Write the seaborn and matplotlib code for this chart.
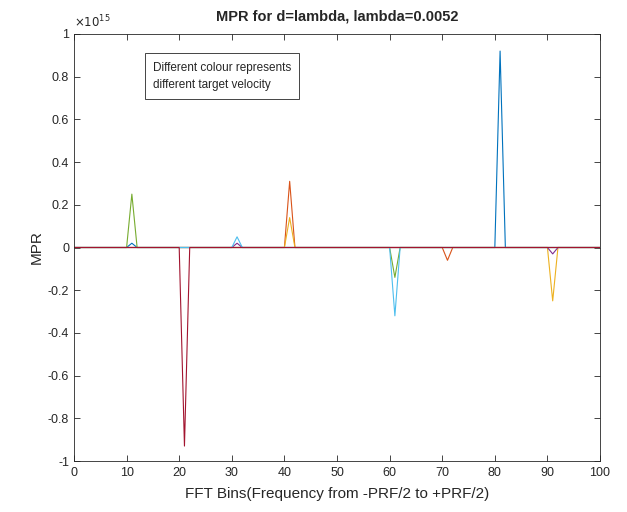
import numpy as np
import pandas as pd
import matplotlib
matplotlib.use("Agg")
import matplotlib.pyplot as plt
import seaborn as sns
from matplotlib.ticker import FuncFormatter, MultipleLocator

# FFT bins
bins = np.arange(0, 101)

# spike positions / values (in units of 1e15), per velocity series
series_names = ["v1", "v2", "v3", "v4", "v5", "v6", "v7"]
series_colors = ["#0072BD", "#D95319", "#EDB120", "#7E2F8E", "#77AC30", "#4DBEEE", "#A2142F"]
v1_bins, v1_vals = [11, 81], [0.02, 0.92]
v2_bins, v2_vals = [41, 71], [0.31, -0.06]
v3_bins, v3_vals = [41, 91], [0.14, -0.25]
v4_bins, v4_vals = [91, 31], [-0.03, 0.02]
v5_bins, v5_vals = [11, 61], [0.25, -0.14]
v6_bins, v6_vals = [31, 61], [0.05, -0.32]
v7_bins, v7_vals = [21], [-0.93]

spikes = [(v1_bins, v1_vals), (v2_bins, v2_vals), (v3_bins, v3_vals), (v4_bins, v4_vals),
          (v5_bins, v5_vals), (v6_bins, v6_vals), (v7_bins, v7_vals)]

rows = []
for name, (bs, vs) in zip(series_names, spikes):
    y = np.zeros(len(bins))
    for b, v in zip(bs, vs):
        y[bins == b] = v
    rows.append(pd.DataFrame({"bin": bins, "mpr": y, "series": name}))
df = pd.concat(rows, ignore_index=True)

sns.set_theme(style="white")
plt.rcParams["font.family"] = ["Liberation Sans", "DejaVu Sans"]

fig = plt.figure(figsize=(6.27, 5.12), dpi=100)
ax = fig.add_axes([0.118, 0.0996, 0.839, 0.834])

sns.lineplot(data=df, x="bin", y="mpr", hue="series", hue_order=series_names,
             palette=series_colors, linewidth=0.8, legend=False, ax=ax, estimator=None)

ax.set_xlim(0, 100)
ax.set_ylim(-1, 1)
ax.xaxis.set_major_locator(MultipleLocator(10))
ax.yaxis.set_major_locator(MultipleLocator(0.2))

def fmt(v, pos):
    s = f"{v:.1f}"
    if s.endswith(".0"):
        s = s[:-2]
    if s == "-0":
        s = "0"
    return s

ax.yaxis.set_major_formatter(FuncFormatter(fmt))
ax.xaxis.set_major_formatter(FuncFormatter(lambda v, p: f"{int(round(v))}"))

for sp in ax.spines.values():
    sp.set_color("#262626")
    sp.set_linewidth(0.6)
ax.tick_params(direction="in", length=4, width=0.6, colors="#262626",
               labelsize=9, top=True, right=True, bottom=True, left=True)
ax.tick_params(axis="x", pad=4)

ax.set_title("MPR for d=lambda, lambda=0.0052", fontsize=10.5, fontweight="bold", pad=10)
ax.set_xlabel("FFT Bins(Frequency from -PRF/2 to +PRF/2)", fontsize=11, labelpad=6)
ax.set_ylabel("MPR", fontsize=11, labelpad=3)

ax.text(0.0, 1.008, r"$\times10^{15}$", transform=ax.transAxes, fontsize=8.5,
        ha="left", va="bottom", color="#262626")

ax.text(0.15, 0.935, "Different colour represents\ndifferent target velocity",
        transform=ax.transAxes, fontsize=8.5, ha="left", va="top", linespacing=1.6,
        bbox=dict(boxstyle="square,pad=0.7", facecolor="white", edgecolor="#262626", linewidth=0.6))

fig.savefig("out.png", dpi=100)
